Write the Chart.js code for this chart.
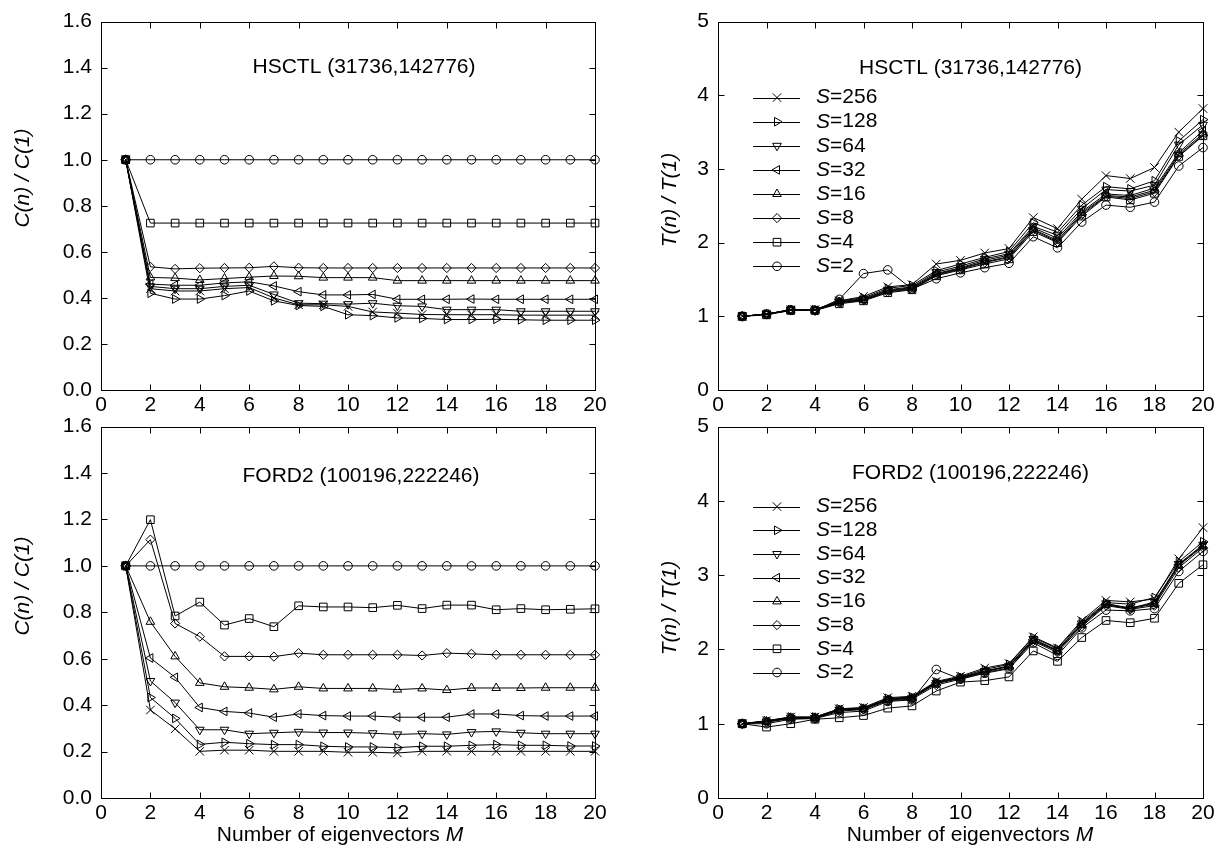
<!DOCTYPE html>
<html>
<head>
<meta charset="utf-8">
<title>Normalized cost and time vs. number of eigenvectors</title>
<script src="https://cdn.jsdelivr.net/npm/chart.js@4.4.0/dist/chart.umd.min.js"></script>
<style>
  html, body { margin: 0; padding: 0; background: #fff; }
  body { width: 1231px; height: 848px; position: relative; overflow: hidden; }
  canvas { position: absolute; }
</style>
</head>
<body>
<canvas id="hsctlCost"></canvas>
<canvas id="hsctlTime"></canvas>
<canvas id="ford2Cost"></canvas>
<canvas id="ford2Time"></canvas>
<script>
'use strict';

// number of eigenvectors M
const EIGEN = [1, 2, 3, 4, 5, 6, 7, 8, 9, 10, 11, 12, 13, 14, 15, 16, 17, 18, 19, 20];
// one series per S, in key order
const S_VALUES = [256, 128, 64, 32, 16, 8, 4, 2];

const COST_TICKS = [0, 0.2, 0.4, 0.6, 0.8, 1.0, 1.2, 1.4, 1.6];
const TIME_TICKS = [0, 1, 2, 3, 4, 5];
const M_TICKS = [0, 2, 4, 6, 8, 10, 12, 14, 16, 18, 20];

// C(n)/C(1), HSCTL
const HSCTL_COST = [
    [1, 0.44, 0.43, 0.43, 0.44, 0.445, 0.40, 0.37, 0.37, 0.363, 0.339, 0.334, 0.328, 0.327, 0.327, 0.327, 0.325, 0.325, 0.325, 0.325],   // 256
    [1, 0.42, 0.395, 0.395, 0.41, 0.43, 0.387, 0.367, 0.363, 0.327, 0.323, 0.313, 0.311, 0.306, 0.306, 0.307, 0.305, 0.303, 0.303, 0.303], // 128
    [1, 0.45, 0.44, 0.44, 0.45, 0.455, 0.415, 0.377, 0.375, 0.373, 0.377, 0.366, 0.363, 0.349, 0.349, 0.349, 0.342, 0.342, 0.342, 0.342],  // 64
    [1, 0.46, 0.455, 0.455, 0.465, 0.47, 0.452, 0.427, 0.413, 0.413, 0.415, 0.394, 0.394, 0.394, 0.395, 0.394, 0.394, 0.394, 0.394, 0.394], // 32
    [1, 0.489, 0.486, 0.478, 0.484, 0.49, 0.495, 0.494, 0.488, 0.488, 0.488, 0.475, 0.475, 0.475, 0.475, 0.475, 0.475, 0.475, 0.475, 0.475], // 16
    [1, 0.535, 0.526, 0.529, 0.53, 0.531, 0.537, 0.531, 0.53, 0.53, 0.53, 0.53, 0.53, 0.53, 0.53, 0.53, 0.53, 0.53, 0.53, 0.53],         // 8
    [1, 0.725, 0.725, 0.725, 0.725, 0.725, 0.725, 0.725, 0.725, 0.725, 0.725, 0.725, 0.725, 0.725, 0.725, 0.725, 0.725, 0.725, 0.725, 0.725], // 4
    [1, 1, 1, 1, 1, 1, 1, 1, 1, 1, 1, 1, 1, 1, 1, 1, 1, 1, 1, 1]                                                                            // 2
];

// T(n)/T(1), HSCTL
const HSCTL_TIME = [
    [1, 1.03, 1.09, 1.09, 1.21, 1.27, 1.40, 1.43, 1.71, 1.76, 1.86, 1.92, 2.34, 2.19, 2.59, 2.91, 2.87, 3.02, 3.50, 3.82],
    [1, 1.03, 1.09, 1.09, 1.21, 1.25, 1.38, 1.42, 1.62, 1.71, 1.80, 1.88, 2.27, 2.14, 2.51, 2.76, 2.73, 2.84, 3.38, 3.67],
    [1, 1.03, 1.09, 1.08, 1.20, 1.24, 1.36, 1.40, 1.60, 1.68, 1.78, 1.85, 2.22, 2.10, 2.46, 2.72, 2.70, 2.78, 3.33, 3.60],
    [1, 1.03, 1.08, 1.08, 1.19, 1.23, 1.35, 1.39, 1.58, 1.66, 1.76, 1.83, 2.20, 2.06, 2.42, 2.66, 2.64, 2.74, 3.22, 3.52],
    [1, 1.03, 1.08, 1.08, 1.19, 1.22, 1.34, 1.38, 1.57, 1.65, 1.74, 1.81, 2.18, 2.03, 2.40, 2.64, 2.62, 2.71, 3.20, 3.48],
    [1, 1.03, 1.08, 1.08, 1.18, 1.22, 1.33, 1.37, 1.56, 1.64, 1.73, 1.80, 2.17, 2.01, 2.38, 2.63, 2.60, 2.69, 3.18, 3.46],
    [1, 1.02, 1.08, 1.08, 1.17, 1.21, 1.32, 1.36, 1.55, 1.63, 1.71, 1.78, 2.15, 2.00, 2.36, 2.62, 2.58, 2.67, 3.17, 3.45],
    [1, 1.03, 1.09, 1.08, 1.23, 1.58, 1.63, 1.37, 1.51, 1.59, 1.66, 1.72, 2.08, 1.93, 2.28, 2.51, 2.48, 2.55, 3.04, 3.29]
];

// C(n)/C(1), FORD2
const FORD2_COST = [
    [1, 0.379, 0.298, 0.201, 0.206, 0.206, 0.201, 0.201, 0.201, 0.197, 0.197, 0.194, 0.201, 0.201, 0.201, 0.201, 0.201, 0.201, 0.201, 0.201],
    [1, 0.433, 0.343, 0.231, 0.24, 0.234, 0.23, 0.23, 0.223, 0.22, 0.22, 0.217, 0.223, 0.223, 0.227, 0.23, 0.227, 0.227, 0.224, 0.224],
    [1, 0.504, 0.411, 0.294, 0.294, 0.277, 0.281, 0.285, 0.282, 0.282, 0.279, 0.274, 0.277, 0.274, 0.284, 0.287, 0.281, 0.277, 0.277, 0.277],
    [1, 0.603, 0.52, 0.39, 0.373, 0.366, 0.348, 0.362, 0.355, 0.353, 0.353, 0.348, 0.348, 0.348, 0.362, 0.362, 0.355, 0.353, 0.353, 0.353],
    [1, 0.759, 0.61, 0.496, 0.479, 0.475, 0.468, 0.479, 0.472, 0.472, 0.472, 0.467, 0.472, 0.465, 0.474, 0.474, 0.474, 0.475, 0.475, 0.475],
    [1, 1.113, 0.752, 0.695, 0.61, 0.61, 0.609, 0.624, 0.617, 0.617, 0.617, 0.617, 0.614, 0.624, 0.621, 0.617, 0.617, 0.617, 0.617, 0.617],
    [1, 1.199, 0.784, 0.844, 0.745, 0.773, 0.738, 0.828, 0.823, 0.823, 0.82, 0.83, 0.816, 0.831, 0.831, 0.811, 0.816, 0.811, 0.813, 0.815],
    [1, 1, 1, 1, 1, 1, 1, 1, 1, 1, 1, 1, 1, 1, 1, 1, 1, 1, 1, 1]
];

// T(n)/T(1), FORD2
const FORD2_TIME = [
    [1, 1.04, 1.09, 1.09, 1.20, 1.22, 1.35, 1.37, 1.57, 1.64, 1.75, 1.81, 2.17, 2.02, 2.39, 2.66, 2.64, 2.68, 3.22, 3.64],
    [1, 1.04, 1.09, 1.09, 1.20, 1.21, 1.34, 1.36, 1.56, 1.63, 1.73, 1.80, 2.16, 2.01, 2.37, 2.63, 2.61, 2.70, 3.18, 3.45],
    [1, 1.03, 1.08, 1.08, 1.19, 1.20, 1.33, 1.35, 1.55, 1.62, 1.71, 1.78, 2.14, 1.99, 2.35, 2.62, 2.55, 2.64, 3.15, 3.41],
    [1, 1.03, 1.08, 1.08, 1.19, 1.20, 1.33, 1.35, 1.55, 1.62, 1.71, 1.77, 2.13, 1.98, 2.34, 2.61, 2.56, 2.62, 3.14, 3.40],
    [1, 1.03, 1.08, 1.08, 1.18, 1.20, 1.32, 1.34, 1.54, 1.61, 1.70, 1.77, 2.12, 1.98, 2.33, 2.60, 2.55, 2.61, 3.13, 3.39],
    [1, 1.02, 1.07, 1.07, 1.17, 1.19, 1.31, 1.33, 1.52, 1.60, 1.69, 1.75, 2.11, 1.96, 2.31, 2.59, 2.54, 2.59, 3.10, 3.37],
    [1, 0.955, 1.00, 1.06, 1.08, 1.11, 1.21, 1.24, 1.44, 1.56, 1.58, 1.63, 1.98, 1.84, 2.16, 2.39, 2.36, 2.42, 2.89, 3.14],
    [1, 1.00, 1.06, 1.07, 1.15, 1.17, 1.30, 1.32, 1.73, 1.60, 1.68, 1.74, 2.09, 1.92, 2.29, 2.53, 2.52, 2.55, 3.05, 3.32]
];

// gnuplot-like point types, same order as S_VALUES
const MARKERS = [
    { pointStyle: 'crossRot', rotation: 0, radius: 6 },
    { pointStyle: 'triangle', rotation: 90, radius: 5 },
    { pointStyle: 'triangle', rotation: 180, radius: 5 },
    { pointStyle: 'triangle', rotation: 270, radius: 5 },
    { pointStyle: 'triangle', rotation: 0, radius: 5 },
    { pointStyle: 'rectRot', rotation: 0, radius: 4.6 },
    { pointStyle: 'rect', rotation: 0, radius: 5.4 },
    { pointStyle: 'circle', rotation: 0, radius: 4.3 }
];

const FONT = '"Liberation Sans", Arial, Helvetica, sans-serif';
const FONT_SIZE = 21;
const TICK_LEN = 6;

Chart.defaults.font.family = FONT;
Chart.defaults.font.size = FONT_SIZE;
Chart.defaults.color = '#000';

function drawMarker(ctx, m, x, y) {
    ctx.save();
    ctx.fillStyle = 'rgba(0,0,0,0)';
    ctx.strokeStyle = '#000';
    Chart.helpers.drawPoint(ctx, { pointStyle: m.pointStyle, rotation: m.rotation, radius: m.radius, borderWidth: 1 }, x, y);
    ctx.restore();
}

// frame with inward ticks on all four sides, panel caption, key and axis titles
const gnuplotFrame = {
    id: 'gnuplotFrame',
    afterDraw(chart, args, opts) {
        const { ctx, chartArea: a } = chart;
        const xs = chart.scales.x;
        const ys = chart.scales.y;
        const L = Math.round(a.left) + 0.5;
        const R = Math.round(a.right) + 0.5;
        const T = Math.round(a.top) + 0.5;
        const B = Math.round(a.bottom) + 0.5;

        ctx.save();
        ctx.strokeStyle = '#000';
        ctx.lineWidth = 1;
        ctx.strokeRect(L, T, R - L, B - T);
        ctx.beginPath();
        xs.ticks.forEach(t => {
            const px = Math.round(xs.getPixelForValue(t.value)) + 0.5;
            ctx.moveTo(px, B); ctx.lineTo(px, B - TICK_LEN);
            ctx.moveTo(px, T); ctx.lineTo(px, T + TICK_LEN);
        });
        ys.ticks.forEach(t => {
            const py = Math.round(ys.getPixelForValue(t.value)) + 0.5;
            ctx.moveTo(L, py); ctx.lineTo(L + TICK_LEN, py);
            ctx.moveTo(R, py); ctx.lineTo(R - TICK_LEN, py);
        });
        ctx.stroke();

        ctx.fillStyle = '#000';
        ctx.textBaseline = 'middle';

        // caption
        ctx.font = `${FONT_SIZE}px ${FONT}`;
        ctx.textAlign = 'center';
        ctx.fillText(opts.caption, (a.left + a.right) / 2 + opts.captionDx, a.top + opts.captionDy);

        // key
        if (opts.key) {
            chart.data.datasets.forEach((ds, i) => {
                const ky = a.top + opts.keyTop + i * opts.keyStep;
                ctx.beginPath();
                ctx.moveTo(a.left + 35, Math.round(ky) + 0.5);
                ctx.lineTo(a.left + 82, Math.round(ky) + 0.5);
                ctx.stroke();
                drawMarker(ctx, MARKERS[i], a.left + 59, ky);
                ctx.textAlign = 'left';
                ctx.font = `italic ${FONT_SIZE}px ${FONT}`;
                ctx.fillText('S', a.left + 98, ky);
                const sw = ctx.measureText('S').width;
                ctx.font = `${FONT_SIZE}px ${FONT}`;
                ctx.fillText('=' + S_VALUES[i], a.left + 98 + sw, ky);
            });
        }

        // y title, rotated
        ctx.save();
        ctx.translate(opts.yTitleX, opts.yTitleY);
        ctx.rotate(-Math.PI / 2);
        ctx.textAlign = 'center';
        ctx.font = `italic ${FONT_SIZE}px ${FONT}`;
        ctx.fillText(opts.yTitle, 0, 0);
        ctx.restore();

        // x title with italic M
        if (opts.xTitle) {
            ctx.font = `${FONT_SIZE}px ${FONT}`;
            const head = 'Number of eigenvectors ';
            const hw = ctx.measureText(head).width;
            ctx.font = `italic ${FONT_SIZE}px ${FONT}`;
            const mw = ctx.measureText('M').width;
            const x0 = opts.xTitleX - (hw + mw) / 2;
            ctx.textAlign = 'left';
            ctx.font = `${FONT_SIZE}px ${FONT}`;
            ctx.fillText(head, x0, chart.height + opts.xTitleDy);
            ctx.font = `italic ${FONT_SIZE}px ${FONT}`;
            ctx.fillText('M', x0 + hw, chart.height + opts.xTitleDy);
        }
        ctx.restore();
    }
};

function makePanel(id, box, area, rows, yTicks, frameOpts) {
    const canvas = document.getElementById(id);
    canvas.width = box.w;
    canvas.height = box.h;
    canvas.style.left = box.left + 'px';
    canvas.style.top = box.top + 'px';

    const yWidth = area.left - box.left;
    const xHeight = box.top + box.h - area.bottom;

    const datasets = rows.map((vals, i) => ({
        label: 'S=' + S_VALUES[i],
        data: vals.map((v, j) => ({ x: EIGEN[j], y: v })),
        borderColor: '#000',
        borderWidth: 1,
        backgroundColor: 'rgba(0,0,0,0)',
        pointBackgroundColor: 'rgba(0,0,0,0)',
        pointBorderColor: '#000',
        pointBorderWidth: 1,
        pointStyle: MARKERS[i].pointStyle,
        pointRotation: MARKERS[i].rotation,
        pointRadius: MARKERS[i].radius,
        tension: 0,
        clip: false
    }));

    return new Chart(canvas.getContext('2d'), {
        type: 'line',
        data: { datasets },
        options: {
            responsive: false,
            animation: false,
            events: [],
            layout: {
                padding: {
                    left: 0,
                    top: area.top - box.top,
                    right: box.left + box.w - area.right,
                    bottom: 0
                }
            },
            plugins: {
                legend: { display: false },
                tooltip: { enabled: false },
                gnuplotFrame: frameOpts
            },
            scales: {
                x: {
                    type: 'linear',
                    min: M_TICKS[0],
                    max: M_TICKS[M_TICKS.length - 1],
                    grid: { display: false, drawTicks: false },
                    border: { display: false },
                    afterBuildTicks: s => { s.ticks = M_TICKS.map(v => ({ value: v })); },
                    afterFit: s => { s.height = xHeight; },
                    ticks: { padding: 3, maxRotation: 0, autoSkip: false, color: '#000' }
                },
                y: {
                    type: 'linear',
                    min: yTicks[0],
                    max: yTicks[yTicks.length - 1],
                    grid: { display: false, drawTicks: false },
                    border: { display: false },
                    afterBuildTicks: s => { s.ticks = yTicks.map(v => ({ value: v })); },
                    afterFit: s => { s.width = yWidth; },
                    ticks: {
                        padding: 9,
                        color: '#000',
                        callback: v => (yTicks === COST_TICKS ? v.toFixed(1) : String(v))
                    }
                }
            }
        },
        plugins: [gnuplotFrame]
    });
}

makePanel('hsctlCost',
    { left: 0, top: 0, w: 625, h: 424 },
    { left: 101, top: 15, right: 595, bottom: 390 },
    HSCTL_COST, COST_TICKS,
    { caption: 'HSCTL (31736,142776)', captionDx: 16, captionDy: 46, key: false,
      yTitle: 'C(n) / C(1)', yTitleX: 23, yTitleY: 178, xTitle: false });

makePanel('hsctlTime',
    { left: 615, top: 0, w: 616, h: 424 },
    { left: 718, top: 15, right: 1203, bottom: 390 },
    HSCTL_TIME, TIME_TICKS,
    { caption: 'HSCTL (31736,142776)', captionDx: 10, captionDy: 47, key: true, keyTop: 76, keyStep: 24.1,
      yTitle: 'T(n) / T(1)', yTitleX: 55, yTitleY: 200, xTitle: false });

makePanel('ford2Cost',
    { left: 0, top: 405, w: 625, h: 443 },
    { left: 101, top: 422, right: 595, bottom: 798 },
    FORD2_COST, COST_TICKS,
    { caption: 'FORD2 (100196,222246)', captionDx: 13, captionDy: 50, key: false,
      yTitle: 'C(n) / C(1)', yTitleX: 23, yTitleY: 181, xTitle: true, xTitleX: 340, xTitleDy: -13 });

makePanel('ford2Time',
    { left: 615, top: 405, w: 616, h: 443 },
    { left: 718, top: 422, right: 1203, bottom: 798 },
    FORD2_TIME, TIME_TICKS,
    { caption: 'FORD2 (100196,222246)', captionDx: 10, captionDy: 47, key: true, keyTop: 80, keyStep: 23.7,
      yTitle: 'T(n) / T(1)', yTitleX: 55, yTitleY: 203, xTitle: true, xTitleX: 355, xTitleDy: -13 });
</script>
</body>
</html>
